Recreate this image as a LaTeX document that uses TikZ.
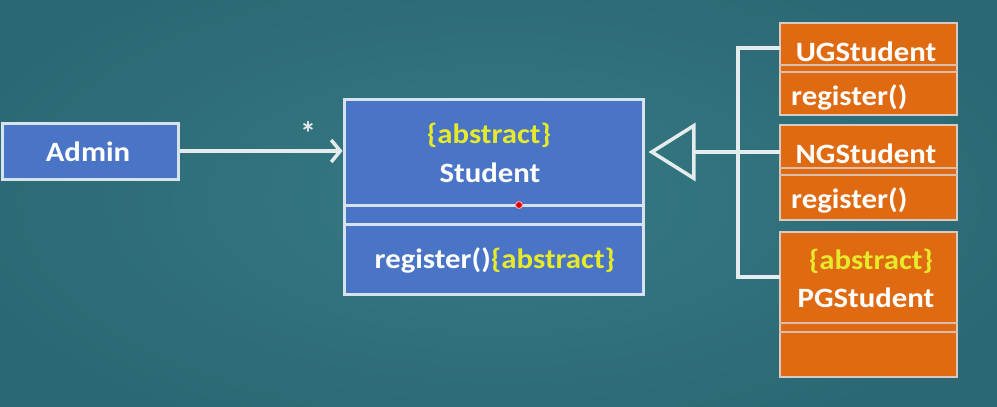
\documentclass[tikz,border=0pt]{standalone}
\usepackage{fontspec}
\setmainfont{Carlito}
\newfontfamily\umlfont[FakeStretch=1.1]{Carlito}
\usetikzlibrary{arrows.meta}
\definecolor{bg}{HTML}{2B6873}
\definecolor{bglight}{HTML}{367A84}
\definecolor{bluebox}{HTML}{4A74C6}
\definecolor{edge}{HTML}{D6E2EE}
\definecolor{orangebox}{HTML}{E06A12}
\definecolor{yel}{HTML}{E6EA2A}
\definecolor{line}{HTML}{E4ECEE}
\newcommand{\umlsize}{\umlfont\bfseries\fontsize{28}{30}\selectfont}
\tikzset{
  blue cls/.style={draw=edge, line width=3pt, fill=bluebox, inner sep=0pt},
  orange cls/.style={draw=edge!80!orangebox, line width=2.5pt, fill=orangebox, inner sep=0pt},
  lbl/.style={text=white, font=\umlsize, inner sep=0pt},
  ylbl/.style={text=yel, font=\umlsize, inner sep=0pt},
  conn/.style={draw=line, line width=3.5pt},
  divider/.style={draw=edge, line width=3pt},
  odiv/.style={draw=edge!70!orangebox, line width=2pt},
}
\begin{document}
\begin{tikzpicture}[x=1pt,y=-1pt]
\fill[bg] (0,0) rectangle (997,407);
\begin{scope}
\clip (0,0) rectangle (997,407);
\shade[inner color=bglight, outer color=bg] (498,200) ellipse (560pt and 260pt);
\end{scope}
\useasboundingbox (0,0) rectangle (997,407);
% Admin
\node[blue cls, minimum width=176pt, minimum height=56pt] (admin) at (90,151) {};
\node[lbl] (admint) at (88,152) {Admin};
% Student
\node[blue cls, minimum width=299pt, minimum height=195pt] (student) at (493.5,196.5) {};
\node[ylbl] (sabs) at (489,135) {\{abstract\}};
\node[lbl] (sname) at (490,173) {Student};
\draw[divider] (student.west |- 0,205) -- (student.east |- 0,205);
\draw[divider] (student.west |- 0,224) -- (student.east |- 0,224);
\node[inner sep=0pt, font=\umlsize] (sop) at (495,260) {\textcolor{white}{register()}\textcolor{yel}{\{abstract\}}};
\fill[red!85!black, draw=red!40, line width=1pt] (519,205) circle (3.5pt);
% Association
\draw[conn, -{Straight Barb[length=9pt,width=22pt,line width=3.5pt]}] (admin.east) -- (student.west |- admin.east);
\node[text=line, font=\bfseries\fontsize{32}{32}\selectfont, inner sep=0pt] (star) at (308,133) {*};
% Subclasses
\node[orange cls, minimum width=177pt, minimum height=92pt] (ug) at (868.5,69) {};
\node[lbl] (ugn) at (866,52) {UGStudent};
\node[lbl, anchor=west] (ugo) at (791,97) {register()};
\draw[odiv] (ug.west |- 0,65) -- (ug.east |- 0,65);
\draw[odiv] (ug.west |- 0,72) -- (ug.east |- 0,72);
\node[orange cls, minimum width=177pt, minimum height=95pt] (ng) at (868.5,172.5) {};
\node[lbl] (ngn) at (866,154) {NGStudent};
\node[lbl, anchor=west] (ngo) at (791,200) {register()};
\draw[odiv] (ng.west |- 0,168) -- (ng.east |- 0,168);
\draw[odiv] (ng.west |- 0,175) -- (ng.east |- 0,175);
\node[orange cls, minimum width=177pt, minimum height=145pt] (pg) at (868.5,304.5) {};
\node[ylbl] (pga) at (871,261) {\{abstract\}};
\node[lbl] (pgn) at (866,298) {PGStudent};
\draw[odiv] (pg.west |- 0,323) -- (pg.east |- 0,323);
\draw[odiv] (pg.west |- 0,332) -- (pg.east |- 0,332);
% Generalization
\coordinate (j) at (738,152);
\coordinate (ugj) at (780,48);
\coordinate (ngj) at (780,152);
\coordinate (pgj) at (780,277);
\draw[conn, -{Triangle[open, length=47pt, width=58pt, line width=3.5pt]}, shorten >=4pt] (ngj) -- (student.east |- ngj);
\draw[conn] (ugj) -- (ugj -| j) -- (pgj -| j) -- (pgj);
\end{tikzpicture}
\end{document}
